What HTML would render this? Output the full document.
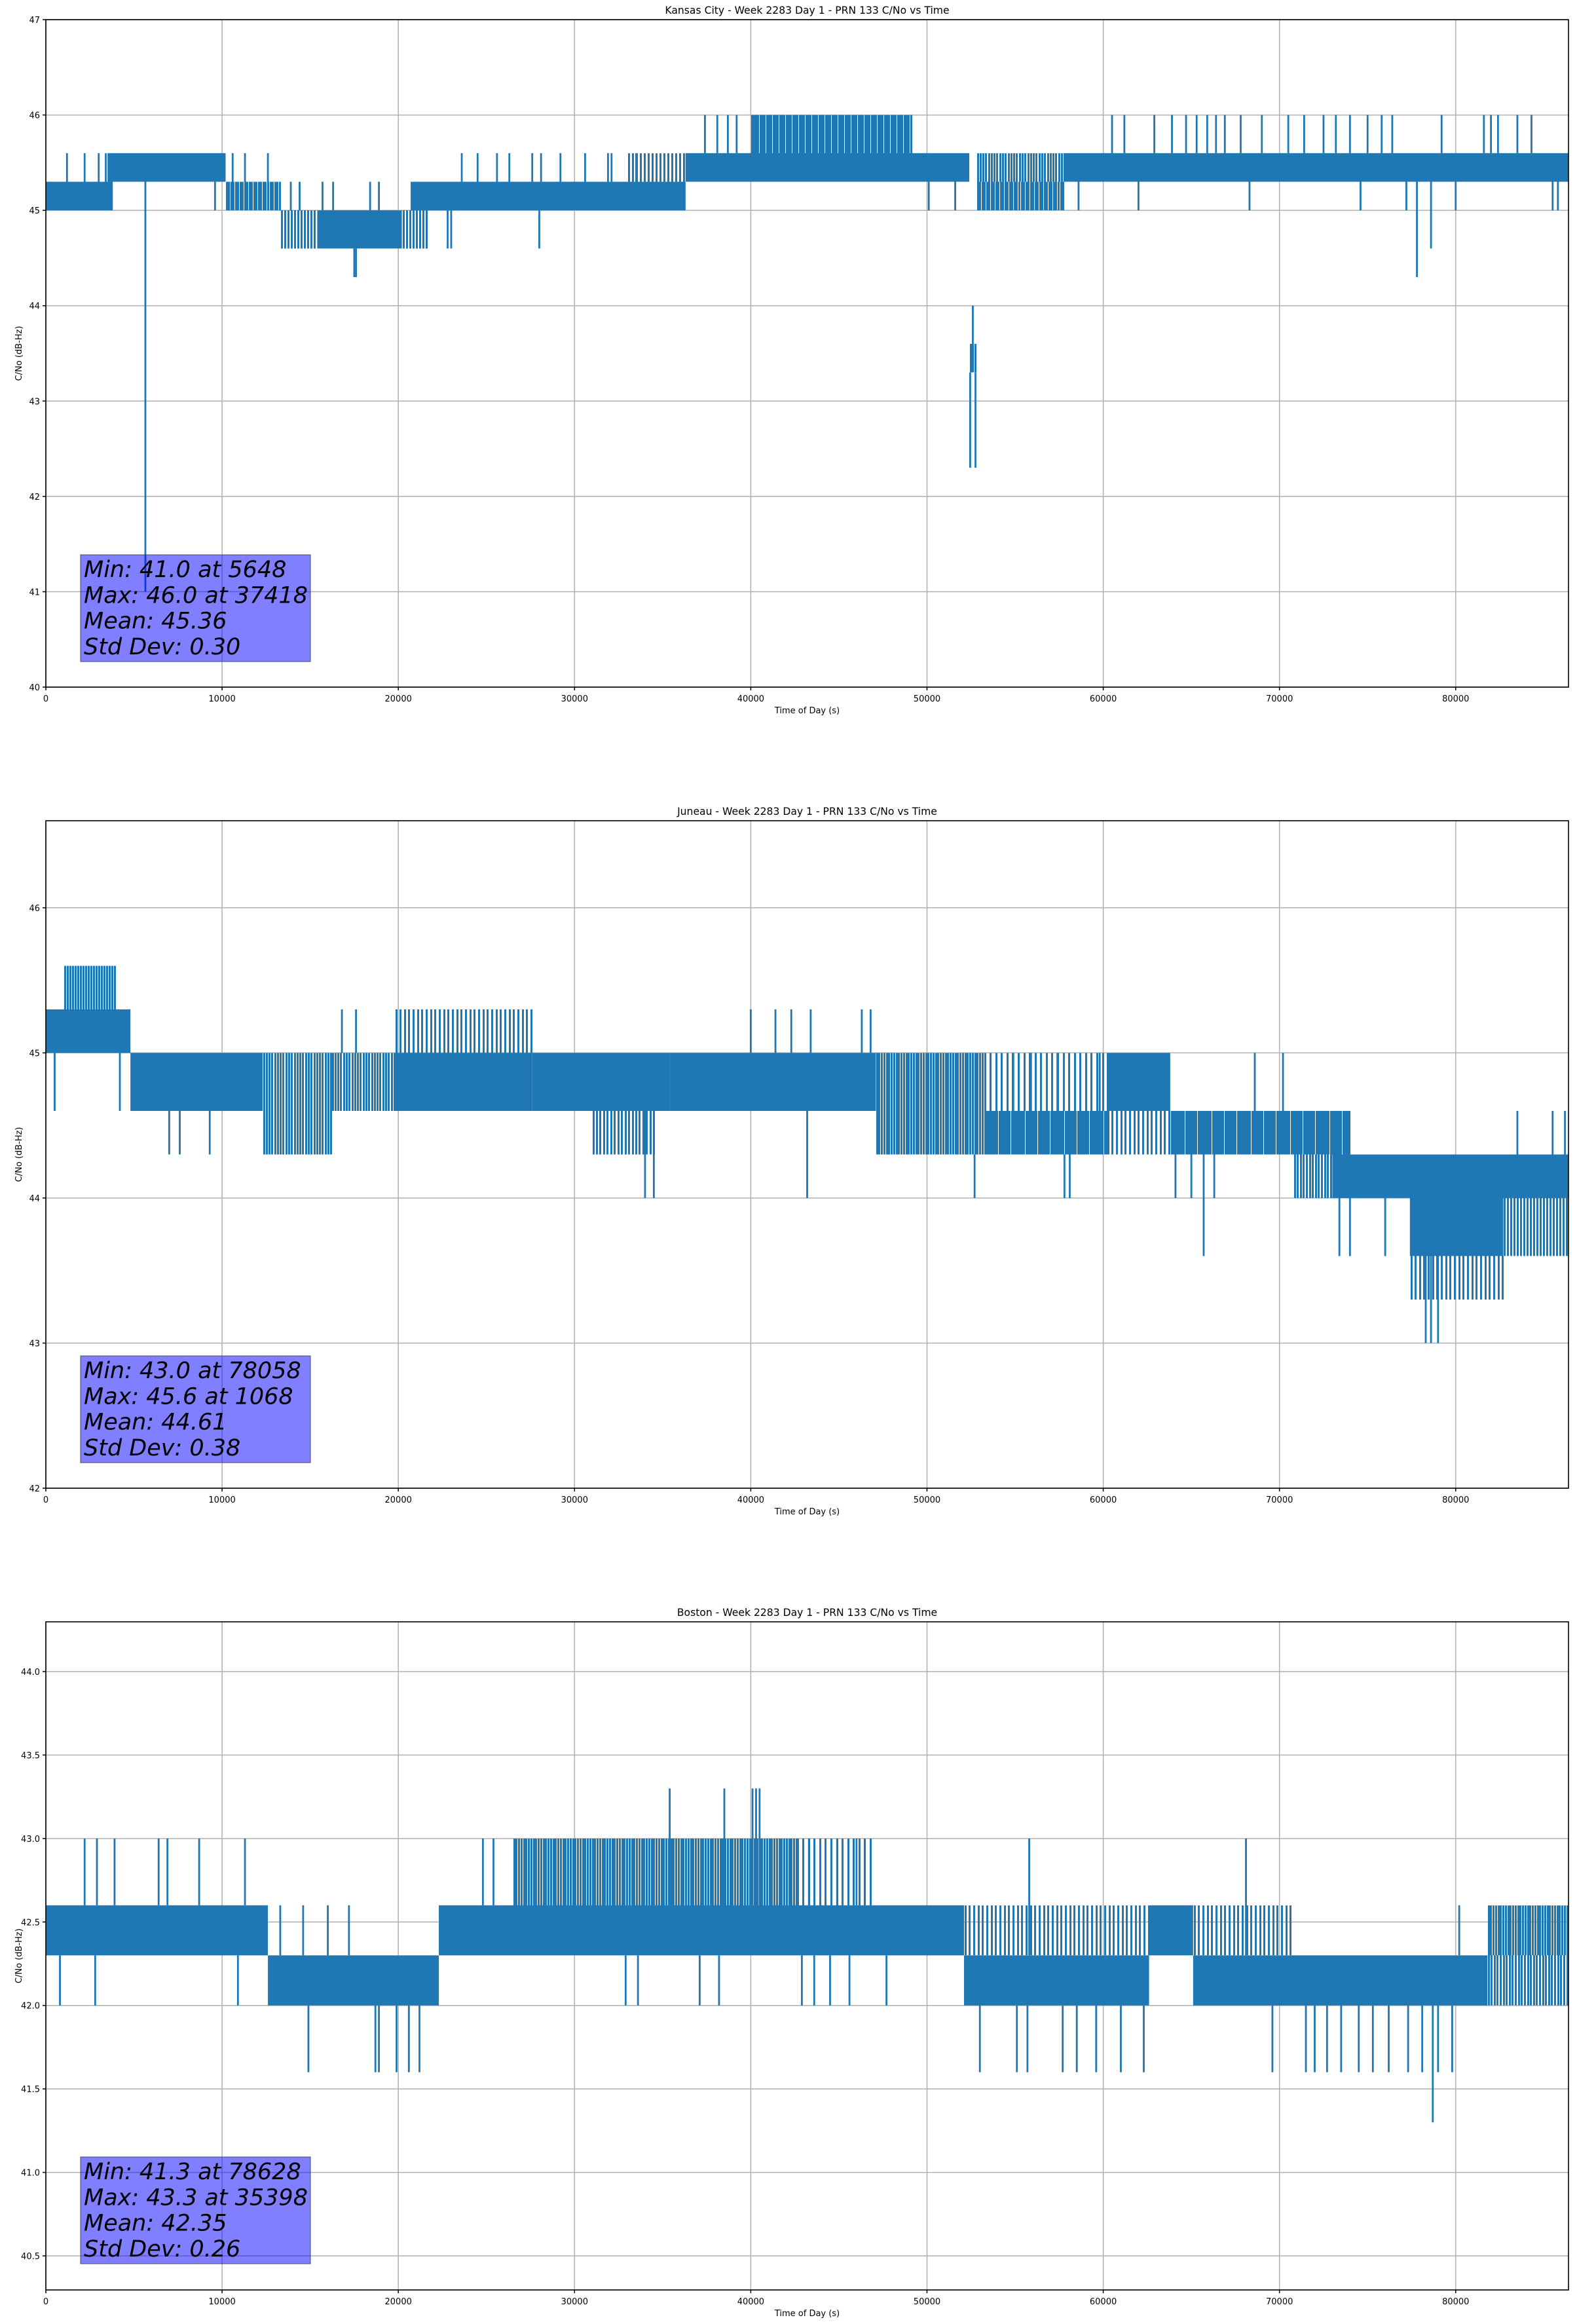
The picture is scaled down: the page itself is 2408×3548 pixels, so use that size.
<!DOCTYPE html>
<html><head><meta charset="utf-8"><style>
html,body{margin:0;padding:0;background:#fff;}
svg{display:block;font-family:"DejaVu Sans","Liberation Sans",sans-serif;}
</style></head><body>
<svg id="fig" width="2408" height="3548" viewBox="0 0 2408 3548" xmlns="http://www.w3.org/2000/svg"></svg>
<script>
// ---------- Chart 1: Kansas City ----------
const kcSegStart = [0,3500,10200,13300,15400,20200,20700,33000,36300,40000,40000,49200,52400,52800,52800,57800];
const kcSegEnd   = [3800,10200,13300,15400,20200,21700,36300,36300,40200,49200,49200,52400,52800,57800,57800,86400];
const kcSegLo    = [45.0,45.3,45.0,44.6,44.6,44.6,45.0,45.3,45.3,45.6,45.3,45.3,43.3,45.0,45.3,45.3];
const kcSegHi    = [45.3,45.6,45.3,45.0,45.0,45.0,45.3,45.6,45.6,46.0,45.6,45.6,43.6,45.3,45.6,45.6];
const kcSegDens  = [1,1,0.85,0.6,1,0.6,1,0.5,1,0.9,1,1,0.8,0.85,0.7,1];
const kcSpikeT = [1200,2200,3000,3400,5648,9600,10400,10600,11300,12600,13900,14400,15700,16300,17500,17600,18400,18900,22800,23000,25600,27600,28000,28100,30600,31900,32100,21300,23600,24500,26300,29200,33500,37400,38100,38700,39200,50100,51600,52450,52750,52600,60500,62900,63900,64700,65300,65900,66400,66900,69000,73200,74000,75000,75800,62000,77200,77800,78600,80000,81600,82000,82400,83500,85500,85800,61200,67800,70500,71400,72500,76400,79200,84300,58600,68300,74600];
const kcSpikeV = [45.6,45.6,45.6,45.6,41.0,45.0,45.0,45.6,45.6,45.6,45.3,45.3,45.3,45.3,44.3,44.3,45.3,45.3,44.6,44.6,45.6,45.6,44.6,45.6,45.6,45.6,45.6,45.3,45.6,45.6,45.6,45.6,45.6,46.0,46.0,46.0,46.0,45.0,45.0,42.3,42.3,44.0,46.0,46.0,46.0,46.0,46.0,46.0,46.0,46.0,46.0,46.0,46.0,46.0,46.0,45.0,45.0,44.3,44.6,45.0,46.0,46.0,46.0,46.0,45.0,45.0,46.0,46.0,46.0,46.0,46.0,46.0,46.0,46.0,45.0,45.0,45.0];

// ---------- Chart 2: Juneau ----------
const jnSegStart = [0,1000,4800,12300,16200,19800,19800,27600,31000,35400,47100,53200,53200,60200,60200,63800,70800,73000,77400,77400,82700];
const jnSegEnd   = [4800,4000,12300,16200,19800,27600,27600,35400,34500,47100,53200,60200,60200,63800,63800,74000,74000,86400,82700,82700,86400];
const jnSegLo    = [45.0,45.3,44.6,44.3,44.6,44.6,45.0,44.6,44.3,44.6,44.3,44.3,44.6,44.6,44.3,44.3,44.0,44.0,43.6,43.3,43.6];
const jnSegHi    = [45.3,45.6,45.0,45.0,45.0,45.0,45.3,45.0,44.6,45.0,45.0,44.6,45.0,45.0,44.6,44.6,44.3,44.3,44.0,43.6,44.0];
const jnSegDens  = [1,0.75,1,0.7,0.7,1,0.45,1,0.55,1,0.8,0.95,0.35,1,0.45,0.95,0.65,1,1,0.45,0.6];
const jnSpikeT = [500,4200,7000,7600,9300,16800,17600,34000,34500,40000,41400,42300,43400,46300,46800,43200,52700,57800,58100,54900,55900,57400,59800,64100,65000,65700,66300,68600,70200,73400,74000,76000,78300,78600,79000,83500,85500,86200];
const jnSpikeV = [44.6,44.6,44.3,44.3,44.3,45.3,45.3,44.0,44.0,45.3,45.3,45.3,45.3,45.3,45.3,44.0,44.0,44.0,44.0,45.0,45.0,45.0,45.0,44.0,44.0,43.6,44.0,45.0,45.0,43.6,43.6,43.6,43.0,43.0,43.0,44.6,44.6,44.6];

// ---------- Chart 3: Boston ----------
const bsSegStart = [0,12600,22300,26500,42600,52100,52100,62600,65100,65100,81800,81800];
const bsSegEnd   = [12600,22300,52100,42600,47000,62600,62600,65100,81800,70800,86400,86400];
const bsSegLo    = [42.3,42.0,42.3,42.6,42.6,42.0,42.3,42.3,42.0,42.3,42.3,42.0];
const bsSegHi    = [42.6,42.3,42.6,43.0,43.0,42.3,42.6,42.6,42.3,42.6,42.6,42.3];
const bsSegDens  = [1,1,1,0.8,0.35,1,0.45,1,1,0.45,0.8,0.65];
const bsSpikeT = [2200,2900,3900,6400,6900,8700,11300,800,2800,10900,14900,18700,18900,19900,20600,21200,13300,14600,16000,17200,24800,25400,35400,38500,40100,40300,40500,32900,33600,37100,38200,42900,43600,44500,45600,47700,43300,44900,46000,46800,55800,68100,53000,55100,55700,57700,58500,59600,61000,62300,69600,71500,72000,72700,73500,74500,75300,76200,77300,78100,79000,79800,78700,80200];
const bsSpikeV = [43.0,43.0,43.0,43.0,43.0,43.0,43.0,42.0,42.0,42.0,41.6,41.6,41.6,41.6,41.6,41.6,42.6,42.6,42.6,42.6,43.0,43.0,43.3,43.3,43.3,43.3,43.3,42.0,42.0,42.0,42.0,42.0,42.0,42.0,42.0,42.0,43.0,43.0,43.0,43.0,43.0,43.0,41.6,41.6,41.6,41.6,41.6,41.6,41.6,41.6,41.6,41.6,41.6,41.6,41.6,41.6,41.6,41.6,41.6,41.6,41.6,41.6,41.3,42.6];

const xTickVals = [0,10000,20000,30000,40000,50000,60000,70000,80000];
const kcYTicks = [40,41,42,43,44,45,46,47];
const jnYTicks = [42,43,44,45,46];
const bsYTicks = [40.5,41.0,41.5,42.0,42.5,43.0,43.5,44.0];

const NS = "http://www.w3.org/2000/svg";
const fig = document.getElementById('fig');
function mk(tag, attrs, parent){
  const e = document.createElementNS(NS, tag);
  for (const k in attrs) e.setAttribute(k, attrs[k]);
  (parent||fig).appendChild(e);
  return e;
}
const X0 = 70, X1 = 2395, XMAX = 86400;
const BLUE = '#1f77b4';

function drawChart(cfg){
  const g = mk('g', {});
  
  
  const xs = v => X0 + (v / XMAX) * (X1 - X0);
  const ys = v => cfg.top + (cfg.ymax - v) / (cfg.ymax - cfg.ymin) * (cfg.bottom - cfg.top);
  cfg.xticks.forEach(t => {
    const l = mk('line', {x1: xs(t), x2: xs(t), y1: cfg.top, y2: cfg.bottom, stroke: '#b0b0b0', 'stroke-width': 1.5}, g);
    
    
  });
  cfg.yticks.forEach(t => {
    const l = mk('line', {x1: X0, x2: X1, y1: ys(t), y2: ys(t), stroke: '#b0b0b0', 'stroke-width': 1.5}, g);
    
    
  });
  const clipId = 'clip-' + cfg.name;
  const cp = mk('clipPath', {id: clipId}, g);
  mk('rect', {x: X0, y: cfg.top, width: X1 - X0, height: cfg.bottom - cfg.top}, cp);
  const dg = mk('g', {'clip-path': 'url(#' + clipId + ')'}, g);
  
  
  for (let i = 0; i < cfg.segStart.length; i++){
    const x1 = xs(cfg.segStart[i]), x2 = xs(cfg.segEnd[i]);
    const yTop = ys(cfg.segHi[i]), yBot = ys(cfg.segLo[i]);
    const d = cfg.segDens[i];
    if (d >= 1){
      const r = mk('rect', {x: x1, y: yTop, width: Math.max(1, x2 - x1), height: yBot - yTop, fill: BLUE}, dg);
      
      
    } else {
      const w = 3;
      const step = w / d;
      let p = '';
      for (let x = Math.round(x1) + 1.5; x < x2; x += step) p += 'M' + Math.round(x) + '.5 ' + yTop.toFixed(1) + 'V' + yBot.toFixed(1);
      const pa = mk('path', {d: p, stroke: BLUE, 'stroke-width': w, fill: 'none', 'shape-rendering': 'crispEdges'}, dg);
      
      
    }
  }
  for (let i = 0; i < cfg.spikeT.length; i++){
    const t = cfg.spikeT[i], v = cfg.spikeV[i];
    let best = 0, bestD = 1e9;
    for (let j = 0; j < cfg.segStart.length; j++){
      const dd = t < cfg.segStart[j] ? cfg.segStart[j] - t : (t > cfg.segEnd[j] ? t - cfg.segEnd[j] : 0);
      if (dd < bestD || (dd === bestD && cfg.segDens[j] > cfg.segDens[best])){ bestD = dd; best = j; }
    }
    const base = v > cfg.segHi[best] ? cfg.segHi[best] : (v < cfg.segLo[best] ? cfg.segLo[best] : cfg.segHi[best]);
    const l = mk('line', {x1: xs(t), x2: xs(t), y1: ys(base), y2: ys(v), stroke: BLUE, 'stroke-width': 2.8}, dg);
    
    
  }
  const fr = mk('rect', {x: X0, y: cfg.top, width: X1 - X0, height: cfg.bottom - cfg.top, fill: 'none', stroke: '#000', 'stroke-width': 1.6}, g);
  
  
  cfg.xticks.forEach(t => {
    mk('line', {x1: xs(t), x2: xs(t), y1: cfg.bottom, y2: cfg.bottom + 5, stroke: '#000', 'stroke-width': 1.5}, g);
    const tx = mk('text', {x: xs(t), y: cfg.bottom + 22, 'font-size': 13, 'text-anchor': 'middle', fill: '#000'}, g);
    tx.textContent = String(t);
    
    
  });
  cfg.yticks.forEach(t => {
    mk('line', {x1: X0 - 5, x2: X0, y1: ys(t), y2: ys(t), stroke: '#000', 'stroke-width': 1.5}, g);
    const tx = mk('text', {x: X0 - 9, y: ys(t) + 5, 'font-size': 13, 'text-anchor': 'end', fill: '#000'}, g);
    tx.textContent = cfg.yfmt(t);
    
    
  });
  const tt = mk('text', {x: (X0 + X1) / 2, y: cfg.top - 9, 'font-size': 15.6, 'text-anchor': 'middle', fill: '#000'}, g);
  tt.textContent = cfg.title;
  
  
  const xl = mk('text', {x: (X0 + X1) / 2, y: cfg.bottom + 40, 'font-size': 13, 'text-anchor': 'middle', fill: '#000'}, g);
  xl.textContent = 'Time of Day (s)';
  
  
  const cy = (cfg.top + cfg.bottom) / 2;
  const yl = mk('text', {x: 0, y: 0, 'font-size': 13, 'text-anchor': 'middle', fill: '#000', transform: 'translate(33,' + cy + ') rotate(-90)'}, g);
  yl.textContent = 'C/No (dB-Hz)';
  
  
  const bTop = cfg.top + 817;
  const bx = mk('rect', {x: 123, y: bTop, width: 351, height: 163, fill: 'rgba(0,0,255,0.5)', stroke: 'rgba(60,60,90,0.6)', 'stroke-width': 1.5}, g);
  
  
  cfg.stats.forEach((s, k) => {
    const st = mk('text', {x: 128, y: bTop + 34 + k * 39.3, 'font-size': 35, 'font-style': 'italic', fill: '#000'}, g);
    st.textContent = s;
    
    
  });
}

drawChart({name: 'kansas-city-chart', top: 30, bottom: 1049, ymin: 40, ymax: 47,
  xticks: xTickVals, yticks: kcYTicks, yfmt: v => String(v),
  segStart: kcSegStart, segEnd: kcSegEnd, segLo: kcSegLo, segHi: kcSegHi, segDens: kcSegDens,
  spikeT: kcSpikeT, spikeV: kcSpikeV,
  title: 'Kansas City - Week 2283 Day 1 - PRN 133 C/No vs Time',
  stats: ['Min: 41.0 at 5648', 'Max: 46.0 at 37418', 'Mean: 45.36', 'Std Dev: 0.30']});
drawChart({name: 'juneau-chart', top: 1253, bottom: 2272, ymin: 42, ymax: 46.6,
  xticks: xTickVals, yticks: jnYTicks, yfmt: v => String(v),
  segStart: jnSegStart, segEnd: jnSegEnd, segLo: jnSegLo, segHi: jnSegHi, segDens: jnSegDens,
  spikeT: jnSpikeT, spikeV: jnSpikeV,
  title: 'Juneau - Week 2283 Day 1 - PRN 133 C/No vs Time',
  stats: ['Min: 43.0 at 78058', 'Max: 45.6 at 1068', 'Mean: 44.61', 'Std Dev: 0.38']});
drawChart({name: 'boston-chart', top: 2476, bottom: 3496, ymin: 40.296, ymax: 44.298,
  xticks: xTickVals, yticks: bsYTicks, yfmt: v => v.toFixed(1),
  segStart: bsSegStart, segEnd: bsSegEnd, segLo: bsSegLo, segHi: bsSegHi, segDens: bsSegDens,
  spikeT: bsSpikeT, spikeV: bsSpikeV,
  title: 'Boston - Week 2283 Day 1 - PRN 133 C/No vs Time',
  stats: ['Min: 41.3 at 78628', 'Max: 43.3 at 35398', 'Mean: 42.35', 'Std Dev: 0.26']});
</script>
</body></html>
